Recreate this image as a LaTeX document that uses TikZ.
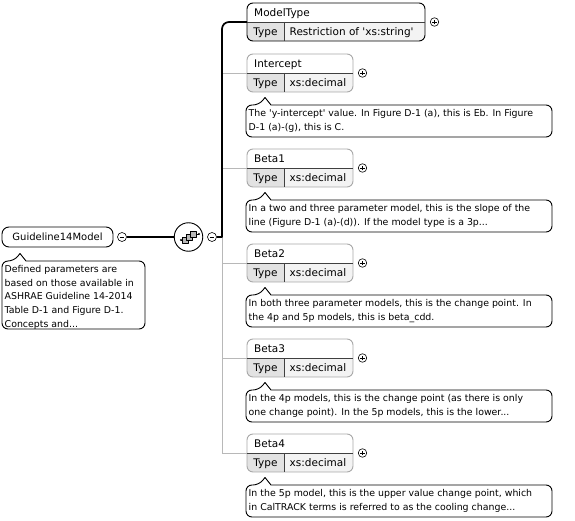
\documentclass[tikz,border=0pt]{standalone}
\usepackage{fontspec}
\setmainfont{DejaVu Sans}
\definecolor{optborder}{HTML}{A8A8A8}
\definecolor{typecell}{HTML}{E2E2E2}
\definecolor{valcell}{HTML}{F3F3F3}
\definecolor{busgrey}{HTML}{B8B8B8}
\tikzset{
  eltext/.style={inner sep=0pt, font=\fontsize{10.5}{12}\selectfont},
  cmttext/.style={inner sep=0pt, align=left, font=\fontsize{9.4}{13.6}\selectfont},
  cmtbox/.style={draw=black, line width=0.9pt, fill=white},
  divline/.style={draw=black!75, line width=0.8pt},
  trunk/.style={draw=black, line width=1.7pt},
  bus/.style={draw=busgrey, line width=0.8pt},
  plusc/.style={circle, draw=black, line width=0.6pt, minimum size=8.5pt, inner sep=0pt,
    path picture={\draw[line width=0.6pt] (path picture bounding box.center) ++(-2.3pt,0) -- ++(4.6pt,0)
      (path picture bounding box.center) ++(0,-2.3pt) -- ++(0,4.6pt);}},
  minusc/.style={circle, draw=black, line width=0.6pt, minimum size=9pt, inner sep=0pt, fill=white,
    path picture={\draw[line width=0.6pt] (path picture bounding box.center) ++(-2.3pt,0) -- ++(4.6pt,0);}},
  rootbox/.style={draw=black, line width=0.9pt, rounded corners=7pt, minimum width=111pt,
    minimum height=20pt, inner sep=0pt, font=\fontsize{10}{12}\selectfont},
  seqcircle/.style={circle, draw=black, line width=0.9pt, minimum size=28.5pt, inner sep=0pt, fill=white}
}
% element box: name, top, right, title, value, border colour
\newcommand\XElem[6]{%
  \begin{scope}
    \clip[rounded corners=6] (247,#2) rectangle (#3,#2+38);
    \fill[white] (247,#2) rectangle (#3,#2+19);
    \fill[typecell] (247,#2+19) rectangle (284,#2+38);
    \fill[valcell] (284,#2+19) rectangle (#3,#2+38);
  \end{scope}
  \draw[#6, line width=0.9pt, rounded corners=6] (247,#2) rectangle (#3,#2+38);
  \draw[divline] (247,#2+19) -- (#3,#2+19);
  \draw[divline] (284,#2+19) -- (284,#2+38);
  \node[eltext, anchor=base west] (#1) at (254,#2+13.7) {#4};
  \node[eltext, anchor=base] (#1-type) at (265.5,#2+32.5) {Type};
  \node[eltext, anchor=base west] (#1-val) at (289.5,#2+32.5) {#5};
  \coordinate (#1-in) at (247,#2+19);
  \coordinate (#1-bus) at (222,#2+19);
  \node[plusc] (#1-plus) at (#3+9.5,#2+19) {};
}
% comment box: name, left, top, right, bottom, tip x, text
\newcommand\XCmt[7]{%
  \draw[cmtbox] (#2,#3+12) [rounded corners=6] -- (#2,#3) -- (#6-6,#3) [sharp corners] -- (#6,#3-7.5)
    -- (#6+6,#3) [rounded corners=6] -- (#4,#3) -- (#4,#5) -- (#2,#5) -- cycle;
  \node[cmttext, anchor=north west] (#1) at (#2+2.5,#3+4.3) {#7};
}
\begin{document}
\begin{tikzpicture}[x=1pt,y=-1pt, line join=round]
\useasboundingbox (0,0) rectangle (575,521);

% root element
\node[rootbox] (root) at (57.5,237) {Guideline14Model};
\node[minusc] (root-minus) at (122,237) {};
\XCmt{root-doc}{2}{261}{145}{329}{20}{Defined parameters are\\based on those available in\\ASHRAE Guideline 14-2014\\Table D-1 and Figure D-1.\\Concepts and...}

% sequence compositor
\node[seqcircle] (seq) at (188.5,237) {};
\node[minusc] (seq-minus) at (212,237) {};
\draw[trunk] (root-minus) -- (seq);

% children
\XElem{ModelType}{3}{425}{ModelType}{Restriction of \textquotesingle xs:string\textquotesingle}{black}
\XElem{Intercept}{54}{353}{Intercept}{xs:decimal}{optborder}
\XElem{Beta1}{149}{353}{Beta1}{xs:decimal}{optborder}
\XElem{Beta2}{244}{353}{Beta2}{xs:decimal}{optborder}
\XElem{Beta3}{339}{353}{Beta3}{xs:decimal}{optborder}
\XElem{Beta4}{434}{353}{Beta4}{xs:decimal}{optborder}

\XCmt{Intercept-doc}{246}{105}{552}{137}{265}{The \textquotesingle y-intercept\textquotesingle{} value. In Figure D-1 (a), this is Eb. In Figure\\D-1 (a)-(g), this is C.}
\XCmt{Beta1-doc}{246}{200}{552}{232}{265}{In a two and three parameter model, this is the slope of the\\line (Figure D-1 (a)-(d)). If the model type is a 3p...}
\XCmt{Beta2-doc}{246}{295}{552}{327}{265}{In both three parameter models, this is the change point. In\\the 4p and 5p models, this is beta\_cdd.}
\XCmt{Beta3-doc}{246}{390}{552}{422}{265}{In the 4p models, this is the change point (as there is only\\one change point). In the 5p models, this is the lower...}
\XCmt{Beta4-doc}{246}{485}{552}{517}{265}{In the 5p model, this is the upper value change point, which\\in CalTRACK terms is referred to as the cooling change...}

% grey bus and branches
\draw[bus] (Intercept-bus) -- (Beta4-bus);
\foreach \e in {Intercept,Beta1,Beta2,Beta3,Beta4} {
  \draw[bus] (\e-bus) -- (\e-in);
}
% thick trunk to the required element
\draw[trunk] (seq-minus.east) -- (222,237) -- (222,32) [rounded corners=7] -- (ModelType-bus) -- (ModelType-in);

% sequence icon
\draw[line width=0.8pt] (181,240) -- (185,240);
\draw[line width=0.8pt] (193,234) -- (199,234);
\filldraw[fill=gray!55, draw=black, line width=0.6pt] (182.5,237.5) rectangle (188,243);
\filldraw[fill=gray!55, draw=black, line width=0.6pt] (186.5,234.5) rectangle (192,240);
\filldraw[fill=gray!55, draw=black, line width=0.6pt] (190.5,231.5) rectangle (196,237);
\fill (181,240) circle (1.1);
\fill (199,234) circle (1.1);
\end{tikzpicture}
\end{document}
